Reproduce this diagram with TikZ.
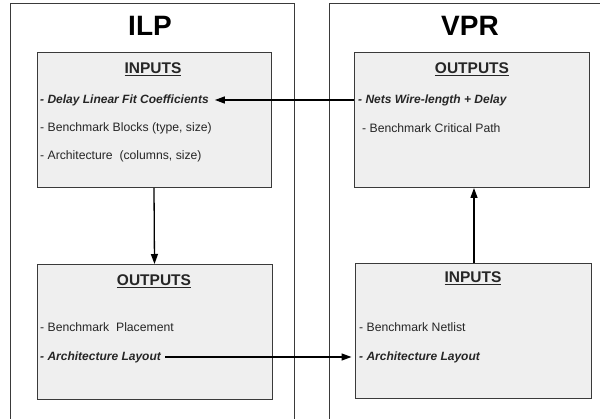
\documentclass[tikz,border=0pt]{standalone}
\usepackage{fontspec}
\setmainfont{Liberation Sans}
\usetikzlibrary{arrows.meta}
\definecolor{boxfill}{HTML}{EFEFEF}
\definecolor{boxline}{HTML}{3A3A3A}
\definecolor{txt}{HTML}{262626}
\tikzset{
  outerbox/.style={draw=boxline, line width=0.9pt},
  innerbox/.style={draw=boxline, fill=boxfill, line width=1pt, rectangle, inner sep=0pt, anchor=north west},
  title/.style={font=\bfseries\fontsize{28}{32}\selectfont, text=black},
  heading/.style={font=\bfseries\fontsize{15.5}{18}\selectfont, text=txt},
  item/.style={anchor=west, inner sep=0pt, font=\fontsize{12.2}{14}\selectfont, text=txt},
  itemb/.style={item, font=\bfseries\itshape\fontsize{12}{14}\selectfont},
  conn/.style={line width=1.3pt, draw=black, -{Triangle[length=10pt,width=7pt]}},
}
\newcommand{\uline}[1]{\underline{#1}}
\begin{document}
\begin{tikzpicture}[x=1pt,y=-1pt]
\clip (0,0) rectangle (600,419);
% outer boxes
\draw[outerbox] (10.5,3.5) rectangle (294,440);
\draw[outerbox] (329.5,3.5) rectangle (620,440);
\node[title] (ilp) at (150,26) {ILP};
\node[title] (vpr) at (470,26) {VPR};
% inner boxes
\node[innerbox, minimum width=234pt, minimum height=135pt] (ilpin) at (36.5,52) {};
\node[innerbox, minimum width=235pt, minimum height=135pt] (ilpout) at (36.5,264) {};
\node[innerbox, minimum width=235pt, minimum height=135pt] (vprout) at (354,52) {};
\node[innerbox, minimum width=236pt, minimum height=135pt] (vprin) at (354.5,263) {};
% headings
\node[heading] (h1) at (153,69) {\uline{INPUTS}};
\node[heading] (h2) at (154,281) {\uline{OUTPUTS}};
\node[heading] (h3) at (472,69) {\uline{OUTPUTS}};
\node[heading] (h4) at (473,278) {\uline{INPUTS}};
% items
\node[itemb] (delay) at (40,100) {- Delay Linear Fit Coefficients};
\node[item] (blocks) at (40,128) {- Benchmark Blocks (type, size)};
\node[item] (arch) at (40,156) {- Architecture\ \ (columns, size)};
\node[item] (place) at (40,327) {- Benchmark\ \ Placement};
\node[itemb] (layL) at (40,357) {- Architecture Layout};
\node[itemb] (nets) at (358,100) {- Nets Wire-length + Delay};
\node[item] (crit) at (362,128) {- Benchmark Critical Path};
\node[item] (netl) at (359,327) {- Benchmark Netlist};
\node[itemb] (layR) at (359,357) {- Architecture Layout};
% connectors
\draw[conn] (nets.west -| vprout.west) -- ([xshift=6pt]delay.east);
\draw[conn] (ilpin.south) -- (ilpout.north);
\draw[conn] (vprin.north -| 474,0) -- (vprout.south -| 474,0);
\draw[conn, shorten >=3pt] ([xshift=4pt]layL.east) -- (layR.west -| vprin.west);
\end{tikzpicture}
\end{document}
